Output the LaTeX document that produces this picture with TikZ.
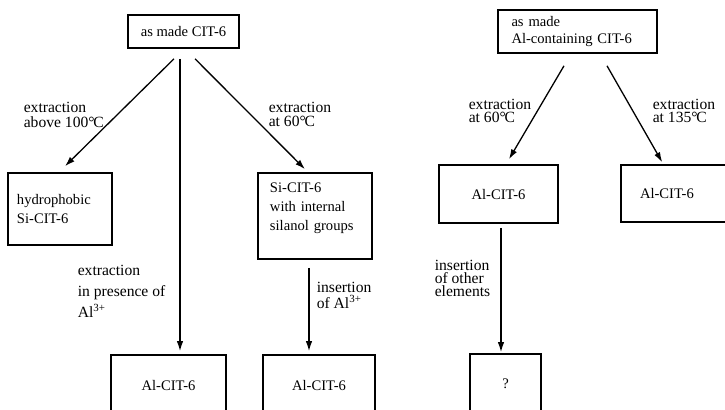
\documentclass[tikz,border=0pt]{standalone}
\usepackage{fontspec}
\setmainfont{Liberation Serif}
\usepackage{tikz}
\usetikzlibrary{arrows.meta,positioning,calc}
\newcommand{\degc}{°\kern-0.6pt C}

\begin{document}
\begin{tikzpicture}[x=0.5pt, y=-0.5pt, thick,
    font=\fontsize{7.8}{9.5}\selectfont,
    box/.style={draw, line width=0.8pt, inner sep=0pt, font=\fontsize{7.3}{9.5}\selectfont},
    lbl/.style={align=left, inner sep=0pt, anchor=west},
    arr/.style={-{Latex[length=5pt,width=3.2pt]}, line width=0.65pt}]
    \clip (0,0) rectangle (725,409);

    % Boxes (all-silica CIT-6)
    \node[box, minimum width=55.5pt, minimum height=16.5pt] (made) at (183.5,31.5) {as made CIT-6};
    \node[box, align=left, text width=43pt, inner xsep=4.5pt, minimum height=36pt] (hyd) at (60,209) {hydrophobic\\Si-CIT-6};
    \node[box, align=left, text width=45pt, inner xsep=6pt, minimum height=43pt] (si) at (315,216) {Si-CIT-6\\with internal\\silanol groups\\ \mbox{}};
    \node[box, minimum width=57.5pt, minimum height=30pt] (alA) at (168.5,385) {Al-CIT-6};
    \node[box, minimum width=56pt, minimum height=30pt] (alB) at (319,385) {Al-CIT-6};

    % Boxes (Al-containing CIT-6)
    \node[box, align=left, text width=66pt, inner xsep=6.75pt, minimum height=21.5pt, font=\fontsize{7.3}{8.5}\selectfont] (made2) at (577.5,31.5) {as made\\Al-containing CIT-6};
    \node[box, minimum width=59.5pt, minimum height=29pt] (alC) at (498.5,194) {Al-CIT-6};
    \node[box, align=left, text width=41pt, inner xsep=9.5pt, minimum height=28.5pt] (alD) at (681,193.5) {Al-CIT-6};
    \node[box, minimum width=35.5pt, minimum height=30pt] (q) at (505.5,384) {?};

    % Arrows
    \draw[arr] ($(made.south)+(-9.5,10)$) -- ($(hyd.north)+(5,-6)$);
    \draw[arr] ($(made.south)+(-3.5,10)$) -- ($(alA.north)+(11.5,-3)$);
    \draw[arr] ($(made.south)+(11.5,10)$) -- ($(si.north)+(-10,-3)$);
    \draw[arr] ($(si.south)+(-6,8)$) -- ($(alB.north)+(-10,-3)$);
    \draw[arr] ($(made2.south)+(-13.5,12)$) -- ($(alC.north)+(10.5,-5)$);
    \draw[arr] ($(made2.south)+(29.5,12)$) -- ($(alD.north west)+(42,-2)$);
    \draw[arr] ($(alC.south)+(2.5,4)$) -- ($(q.north)+(-4.5,-1)$);

    % Labels
    \node[lbl, font=\fontsize{7.8}{7.5}\selectfont] (t1) at (23,114.5) {extraction\\above 100\degc};
    \node[lbl, font=\fontsize{7.8}{7}\selectfont] (t2) at (268,114) {extraction\\at 60\degc};
    \node[lbl, font=\fontsize{7.8}{10.5}\selectfont] (t3) at (77,291) {extraction\\in presence of\\Al\textsuperscript{3+}};
    \node[lbl, font=\fontsize{7.8}{8}\selectfont] (t4) at (316,295) {insertion\\of Al\textsuperscript{3+}};
    \node[lbl, font=\fontsize{7.8}{6.5}\selectfont] (t5) at (468,111) {extraction\\at 60\degc};
    \node[lbl, font=\fontsize{7.8}{6.5}\selectfont] (t6) at (652,110.5) {extraction\\at 135\degc};
    \node[lbl, font=\fontsize{7.8}{6.5}\selectfont] (t7) at (434,278) {insertion\\of other\\elements};
\end{tikzpicture}
\end{document}
